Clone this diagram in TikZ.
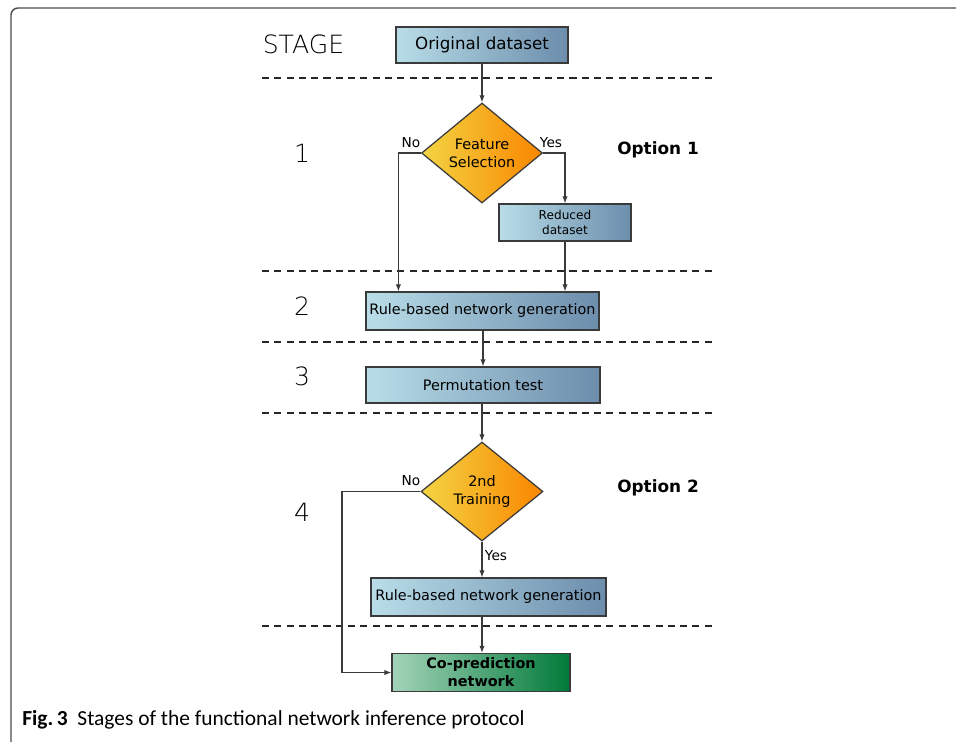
\documentclass[tikz,border=0pt]{standalone}
\usepackage{fontspec}
\setmainfont{DejaVu Sans}
\newfontfamily\thinfont{DejaVu Sans ExtraLight}
\newfontfamily\capfont{Carlito}
\usepackage{xcolor}
\usetikzlibrary{arrows.meta,positioning,calc,shapes.geometric}

\definecolor{boxL}{HTML}{B9DDE8}
\definecolor{boxR}{HTML}{6C8DAC}
\definecolor{decL}{HTML}{F3D443}
\definecolor{decR}{HTML}{FA8600}
\definecolor{outL}{HTML}{A3D3B9}
\definecolor{outR}{HTML}{017A39}
\definecolor{edge}{HTML}{3A3A3A}

\begin{document}
\begin{tikzpicture}[
    x=0.02cm,y=-0.02cm,
    font=\fontsize{8.2}{10.2}\selectfont,
    arr/.style={-{Latex[length=4pt,width=3pt]},edge,line width=0.6pt},
    guide/.style={dashed,dash pattern=on 4pt off 3pt,black!85,line width=0.6pt},
    stepbox/.style={draw=edge,line width=0.7pt,left color=boxL,right color=boxR,
        minimum height=0.74cm,inner sep=1pt,align=center},
    decision/.style={diamond,draw=edge,line width=0.7pt,left color=decL,right color=decR,
        minimum width=2.42cm,minimum height=2.0cm,inner sep=0pt,align=center},
    result/.style={draw=edge,line width=0.7pt,left color=outL,right color=outR,
        minimum width=3.56cm,minimum height=0.76cm,inner sep=1pt,align=center,
        font=\fontsize{8.2}{10.2}\selectfont\bfseries},
    stagenum/.style={font=\thinfont\fontsize{14.3}{15}\selectfont},
    branch/.style={font=\fontsize{7.8}{9}\selectfont,inner sep=1pt},
    option/.style={font=\fontsize{9.6}{11}\selectfont\bfseries},
]
    \path[use as bounding box] (0,0) rectangle (956,741);
    % frame of the figure
    \draw[black!70,line width=0.8pt,rounded corners=4pt] (11,745) -- (11,8) -- (960,8);

    % stage labels and separators
    \node[stagenum] (stage) at (303.5,44) {STAGE};
    \node[stagenum] (s1) at (302,153) {1};
    \node[stagenum] (s2) at (302,306) {2};
    \node[stagenum] (s3) at (302,376) {3};
    \node[stagenum] (s4) at (302,512) {4};
    \foreach \y in {78,271,342,413,626}
        \draw[guide] (262,\y) -- (716,\y);

    % steps
    \node[stepbox,minimum width=3.44cm,minimum height=0.72cm,
        font=\fontsize{9.5}{11}\selectfont] (orig) at (482,45) {Original dataset};
    \node[decision] (fs) at (482,153) {Feature\\Selection};
    \node[stepbox,minimum width=2.64cm,font=\fontsize{6.9}{9}\selectfont]
        (red) at (565,222.5) {Reduced\\dataset};
    \node[stepbox,minimum width=4.66cm,minimum height=0.76cm] (rb1) at (482.5,311)
        {Rule-based network generation};
    \node[stepbox,minimum width=4.68cm,minimum height=0.72cm] (perm) at (483,385)
        {Permutation test};
    \node[decision,minimum width=2.44cm,minimum height=1.98cm] (tr) at (482,491.5)
        {2nd\\Training};
    \node[stepbox,minimum width=4.70cm,minimum height=0.76cm] (rb2) at (488.5,597)
        {Rule-based network generation};
    \node[result] (cop) at (481,672.5) {Co-prediction\\network};

    \node[option] (opt1) at (658,150) {Option 1};
    \node[option] (opt2) at (658,488) {Option 2};

    % connectors
    \coordinate (bypass) at (342,491.5);
    \draw[arr] (orig) -- (fs);
    \draw[arr] (fs.east) -| (red.north);
    \draw[arr] (fs.west) -| ([xshift=0.66cm]rb1.north west);
    \draw[arr] (red.south) -- (red.south |- rb1.north);
    \draw[arr] (rb1.south -| perm.north) -- (perm.north);
    \draw[arr] (perm.south -| tr.north) -- (tr.north);
    \draw[arr] (tr.south) -- (tr.south |- rb2.north);
    \draw[arr] (tr.south |- rb2.south) -- (tr.south |- cop.north);
    \draw[arr] (tr.west) -- (bypass) |- (cop.west);

    \node[branch] (no1) at (411,143) {No};
    \node[branch] (yes1) at (551,143) {Yes};
    \node[branch] (no2) at (411,481) {No};
    \node[branch] (yes2) at (496,556) {Yes};

    % caption
    \node[anchor=base west,inner sep=0pt,font=\capfont\fontsize{12.2}{13}\selectfont]
        (cap) at (22,725) {\textbf{Fig.\,3}\hspace{0.45em}Stages of the functional network inference protocol};
\end{tikzpicture}
\end{document}
